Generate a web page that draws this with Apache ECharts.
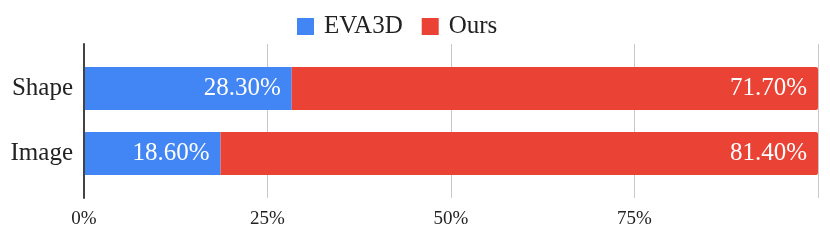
<!DOCTYPE html>
<html>
<head>
<meta charset="utf-8">
<script src="https://cdn.jsdelivr.net/npm/echarts@6/dist/echarts.min.js"></script>
<style>html,body{margin:0;padding:0;background:#fff}#c{width:830px;height:242px}</style>
</head>
<body>
<div id="c"></div>
<script>
const categories = ['Shape', 'Image'];
const eva3d = [28.3, 18.6];
const ours = [71.7, 81.4];
const seriesNames = ['EVA3D', 'Ours'];
const xMin = 0, xMax = 100, xStep = 25;

const FONT = "'Liberation Serif', 'Times New Roman', serif";
const chart = echarts.init(document.getElementById('c'), null, {renderer: 'canvas'});
const lbl = {
  show: true, position: 'insideRight', distance: 11, color: '#fff',
  fontFamily: FONT, fontSize: 25,
  formatter: p => p.value.toFixed(2) + '%'
};
chart.setOption({
  animation: false,
  textStyle: {fontFamily: FONT},
  legend: {
    data: seriesNames, left: 292, top: 9, itemWidth: 17, itemHeight: 17, itemGap: 19,
    icon: 'rect',
    textStyle: {fontFamily: FONT, fontSize: 25, color: '#222', padding: [0, 0, 0, 5]}
  },
  grid: [
    {left: 84, right: 12, top: 44, bottom: 44},
    {left: 84, right: 12, top: 56, bottom: 56}
  ],
  xAxis: [
    {
      type: 'value', gridIndex: 0, min: xMin, max: xMax, interval: xStep,
      axisLine: {show: false}, axisTick: {show: false},
      splitLine: {show: true, lineStyle: {color: '#c8c8c8', width: 1}},
      axisLabel: {
        fontFamily: FONT, fontSize: 19, color: '#222', margin: 12,
        formatter: v => v === xMax ? '' : v + '%'
      }
    },
    {type: 'value', gridIndex: 1, min: xMin, max: xMax, show: false}
  ],
  yAxis: [
    {
      type: 'category', gridIndex: 0, data: categories, inverse: true, z: 10,
      axisLine: {show: true, lineStyle: {color: '#444', width: 2}},
      axisTick: {show: false}, axisLabel: {show: false}, splitLine: {show: false}
    },
    {
      type: 'category', gridIndex: 1, data: categories, inverse: true,
      axisLine: {show: false}, axisTick: {show: false},
      axisLabel: {fontFamily: FONT, fontSize: 25, color: '#222', margin: 11}
    }
  ],
  series: [
    {
      name: seriesNames[0], type: 'bar', stack: 't', xAxisIndex: 1, yAxisIndex: 1,
      data: eva3d, barWidth: 43, itemStyle: {color: '#4285F4'}, label: lbl
    },
    {
      name: seriesNames[1], type: 'bar', stack: 't', xAxisIndex: 1, yAxisIndex: 1,
      data: ours, barWidth: 43, itemStyle: {color: '#EA4335', borderRadius: [0, 2, 2, 0]}, label: lbl
    }
  ]
});
</script>
</body>
</html>
